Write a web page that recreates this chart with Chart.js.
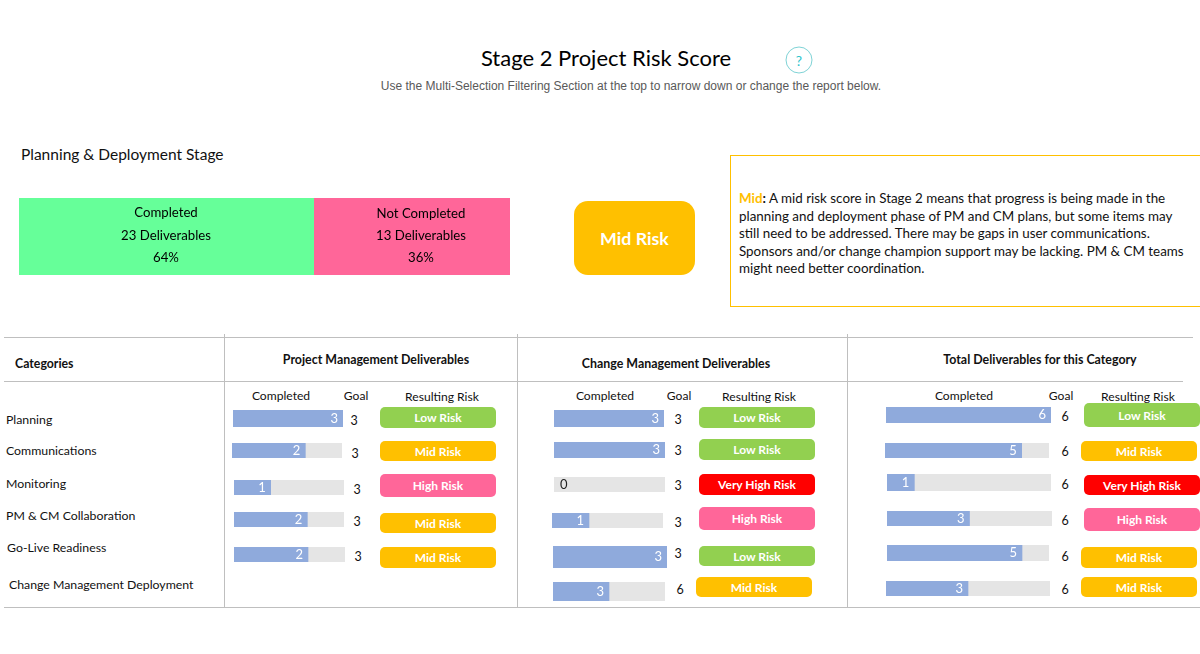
<!DOCTYPE html>
<html><head><meta charset="utf-8">
<script src="https://cdn.jsdelivr.net/npm/chart.js@4"></script>
<style>
html,body{margin:0;padding:0;background:#fff;width:1200px;height:654px;overflow:hidden}
body{position:relative;font-family:Lato,sans-serif;color:#111}
.t{position:absolute;white-space:nowrap;line-height:1;transform:translate(-50%,-50%)}
.l{position:absolute;white-space:nowrap;line-height:1;transform:translateY(-50%)}
.line{position:absolute;background:#bfbfbf}
.pill{position:absolute;border-radius:5px;color:#fff;font-weight:700;font-size:12px;display:flex;align-items:center;justify-content:center}
canvas{position:absolute}
.cv{position:absolute}
</style></head><body>
<script>
// ---- data ----
const categories = ["Planning","Communications","Monitoring","PM & CM Collaboration","Go-Live Readiness","Change Management Deployment"];
const pmCompleted = [3,2,1,2,2];
const pmGoal = [3,3,3,3,3];
const pmRisk = ["Low Risk","Mid Risk","High Risk","Mid Risk","Mid Risk"];
const cmCompleted = [3,3,0,1,3,3];
const cmGoal = [3,3,3,3,3,6];
const cmRisk = ["Low Risk","Low Risk","Very High Risk","High Risk","Low Risk","Mid Risk"];
const totalCompleted = [6,5,1,3,5,3];
const totalGoal = [6,6,6,6,6,6];
const totalRisk = ["Low Risk","Mid Risk","Very High Risk","High Risk","Mid Risk","Mid Risk"];
const stageLabels = ["Completed","Not Completed"];
const stageValues = [23,13];
const stagePercents = [64,36];

// ---- layout (pixel boxes: x0,x1,y0,y1) ----
const pmBars=[[233,343,410,427],[232,342,443,458],[234,344,480,495],[234,344,512,527],[234,345,547,562]];
const cmBars=[[554,664,410,427],[554,665,442,458],[554,665,477,492],[552,663,513,528],[553,667,546,568],[553,665,582,601]];
const totBars=[[886,1051,407,423],[885,1049,443,458],[887,1051,474,491],[887,1052,511,526],[887,1049,545,561],[886,1050,581,596]];
const pmPills=[[380,496,407,428],[380,496,441,461],[380,496,474,497],[380,496,513,533],[380,496,547,568]];
const cmPills=[[699,815,407,428],[699,815,439,460],[699,815,474,495],[699,815,507,530],[699,815,546,566],[696,812,577,597]];
const totPills=[[1084,1200,403,427],[1081,1197,441,461],[1084,1200,475,495],[1084,1200,508,531],[1081,1197,547,568],[1081,1197,577,597]];
const pmGoalPos=[[354,421],[355,454],[357,490],[357,522],[358,557]];
const cmGoalPos=[[678,420],[678,451],[678,486],[678,523],[678,554],[680,590]];
const totGoalPos=[[1065,417],[1065,452],[1065,485],[1065,521],[1065,557],[1065,590]];
const catPos=[[6,420],[6,451],[6,484],[6,516],[7,548],[9,585]];
const riskColor={"Low Risk":"#92d050","Mid Risk":"#ffc000","High Risk":"#ff6699","Very High Risk":"#ff0000"};

function el(cls,x,y,txt,css){const d=document.createElement('div');d.className=cls;d.style.left=x+'px';d.style.top=y+'px';d.textContent=txt;if(css)d.style.cssText+=css;document.body.appendChild(d);return d;}
function hline(x0,x1,y){el('line',x0,y,'',`width:${x1-x0}px;height:1px`);}
function vline(x,y0,y1){el('line',x,y0,'',`width:1px;height:${y1-y0}px`);}

// bar label plugin: value at the right end of the filled part
const valueLabel={id:'valueLabel',afterDatasetsDraw(c){
  const v=c.data.datasets[0].data[0];
  const bar=c.getDatasetMeta(0).data[0];
  const ctx=c.ctx;ctx.save();
  ctx.font='13px Lato';ctx.textBaseline='middle';
  if(v===0){ctx.fillStyle='#222';ctx.textAlign='left';ctx.fillText(String(v),6,c.height/2);}
  else{ctx.fillStyle='#fff';ctx.textAlign='right';ctx.fillText(String(v),bar.x-5,c.height/2);}
  ctx.restore();
}};
function makeCanvas(b){const wrap=document.createElement('div');wrap.className='cv';
  wrap.style.cssText=`left:${b[0]}px;top:${b[2]}px;width:${b[1]-b[0]}px;height:${b[3]-b[2]}px`;
  const c=document.createElement('canvas');wrap.appendChild(c);document.body.appendChild(wrap);return c;}
function barOpts(max){return{responsive:true,maintainAspectRatio:false,animation:false,indexAxis:'y',
  layout:{padding:0},events:[],
  plugins:{legend:{display:false},tooltip:{enabled:false},title:{display:false}},
  scales:{x:{display:false,stacked:true,min:0,max:max},y:{display:false,stacked:true}}};}
function progress(b,done,goal,label){
  new Chart(makeCanvas(b),{type:'bar',plugins:[valueLabel],
    data:{labels:[label],datasets:[
      {label:'Completed',data:[done],backgroundColor:done?'#8faadc':'rgba(0,0,0,0)',barPercentage:1,categoryPercentage:1,borderWidth:0},
      {label:'Remaining',data:[goal-done],backgroundColor:'#e5e5e5',barPercentage:1,categoryPercentage:1,borderWidth:0}]},
    options:barOpts(goal)});
}
function column(comp,goal,risk,bars,pills,gpos){
  comp.forEach((v,i)=>{
    progress(bars[i],v,goal[i],categories[i]);
    el('t',gpos[i][0],gpos[i][1],String(goal[i]),'font-size:12.5px');
    const p=pills[i];
    el('pill',p[0],p[2],risk[i],`width:${p[1]-p[0]}px;height:${p[3]-p[2]}px;background:${riskColor[risk[i]]}`);
  });
}

// ---- header ----
el('t',606,57.5,'Stage 2 Project Risk Score','font-size:22px;color:#000');
el('t',631,86,'Use the Multi-Selection Filtering Section at the top to narrow down or change the report below.',"font:12px 'Liberation Sans',sans-serif;color:#595959");
el('t',799,60,'?','box-sizing:border-box;width:27px;height:27px;border:1px solid #7fd3d6;border-radius:50%;display:flex;align-items:center;justify-content:center;font-size:14px;color:#2bc4cc');
el('l',21,154.5,'Planning & Deployment Stage','font-size:15.5px');

// ---- stage summary: each segment is its own panel ----
const stageBoxes=[[19,314,198,275],[314,510,198,275]];
const stageColors=['#66ff99','#ff6699'];
const stageTextX=[166,421];
const stageTextY=[[213,236,258],[214,236,258]];
stageLabels.forEach((lab,i)=>{
  new Chart(makeCanvas(stageBoxes[i]),{type:'bar',
    data:{labels:[lab],datasets:[{label:lab,data:[stageValues[i]],backgroundColor:stageColors[i],barPercentage:1,categoryPercentage:1,borderWidth:0}]},
    options:barOpts(stageValues[i])});
  const lines=[lab,stageValues[i]+' Deliverables',stagePercents[i]+'%'];
  lines.forEach((s,k)=>el('t',stageTextX[i],stageTextY[i][k],s,'font-size:13.2px;color:#000'));
});
el('pill',574,201,'Mid Risk','width:121px;height:74px;border-radius:14px;background:#ffc000;font-size:17.8px');

// ---- explanation box ----
const noteLines=[": A mid risk score in Stage 2 means that progress is being made in the","planning and deployment phase of PM and CM plans, but some items may","still need to be addressed. There may be gaps in user communications.","Sponsors and/or change champion support may be lacking. PM & CM teams","might need better coordination."];
el('line',730,155,'','width:470px;height:1px;background:#ffc000');
el('line',730,306,'','width:470px;height:1px;background:#ffc000');
el('line',730,155,'','width:1px;height:152px;background:#ffc000');
noteLines.forEach((s,i)=>{
  const d=el('l',739,199+i*17.5,i?s:'','font-size:13.4px;color:#111');
  if(!i){const b=document.createElement('b');b.textContent='Mid';b.style.color='#ffc000';d.appendChild(b);
    const c=document.createElement('b');c.textContent=':';d.appendChild(c);d.appendChild(document.createTextNode(s.slice(1)));}
});

// ---- table frame ----
hline(4,1193,337);hline(4,1183,381);hline(4,1200,607);
vline(224,334,607);vline(517,334,607);vline(847,334,607);
el('l',15,364,'Categories','font-size:12.3px;font-weight:700');
el('t',376,360,'Project Management Deliverables','font-size:12.4px;font-weight:700');
el('t',676,364,'Change Management Deliverables','font-size:12.4px;font-weight:700');
el('t',1040,360,'Total Deliverables for this Category','font-size:12.4px;font-weight:700');
[[281,356,442],[605,679,759],[964,1061,1138]].forEach(a=>{
  el('t',a[0],396,'Completed','font-size:12.1px');
  el('t',a[1],396,'Goal','font-size:12.1px');
  el('t',a[2],397,'Resulting Risk','font-size:12.1px');
});
categories.forEach((c,i)=>el('l',catPos[i][0],catPos[i][1],c,'font-size:12.3px'));

// ---- bars ----
column(pmCompleted,pmGoal,pmRisk,pmBars,pmPills,pmGoalPos);
column(cmCompleted,cmGoal,cmRisk,cmBars,cmPills,cmGoalPos);
column(totalCompleted,totalGoal,totalRisk,totBars,totPills,totGoalPos);
</script>
</body></html>
